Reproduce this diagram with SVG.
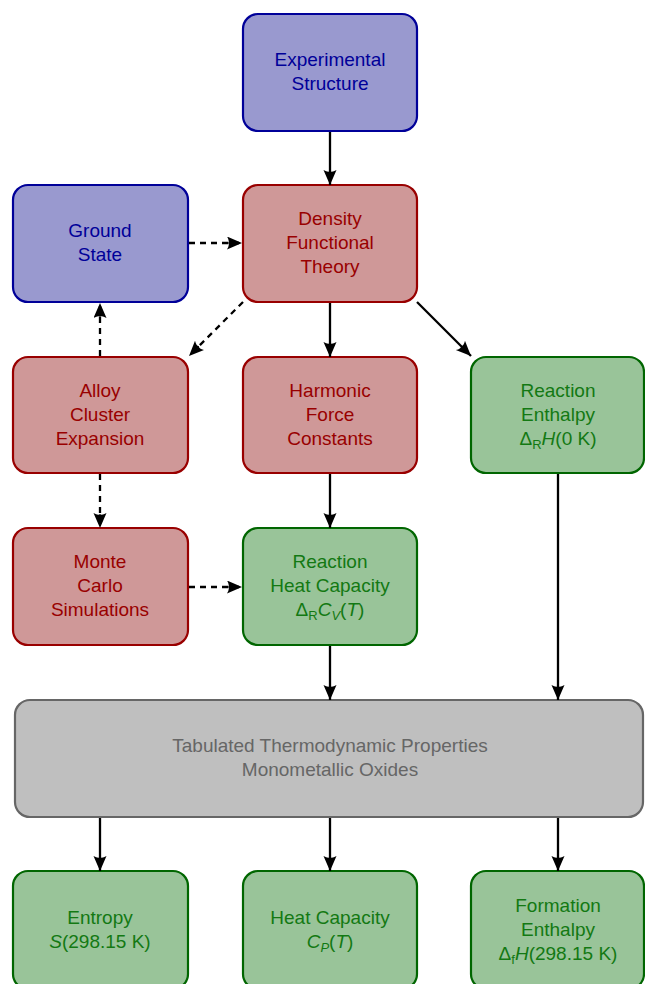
<svg xmlns="http://www.w3.org/2000/svg" width="645" height="984" viewBox="0 0 645 984">
<defs>
<marker id="arr" markerUnits="userSpaceOnUse" markerWidth="18" markerHeight="14" refX="15" refY="6.5" orient="auto">
<path d="M0,0 Q3,5 1,6.5 Q3,8 0,13 L15,6.5 z" fill="#000"/>
</marker>
<style>
.box{stroke-width:2.2}
.blue rect{fill:#9999cf;stroke:#000099}
.blue text{fill:#000099}
.red rect{fill:#cf9898;stroke:#990000}
.red text{fill:#990000}
.green rect{fill:#99c499;stroke:#006600}
.green text{fill:#137913}
.gray rect{fill:#bfbfbf;stroke:#666666}
.gray text{fill:#666666}
text{font-family:"Liberation Sans",Arial,sans-serif;font-size:19px;text-anchor:middle}
.it{font-style:italic}
.c{stroke:#000;stroke-width:2.3;fill:none;marker-end:url(#arr)}
.d{stroke-dasharray:6 5}
</style>
</defs>
<g id="experimental" class="blue">
<rect class="box" x="243" y="14" width="174" height="117" rx="15"/>
<text x="330" y="66">Experimental</text>
<text x="330" y="90">Structure</text>
</g>
<g id="ground" class="blue">
<rect class="box" x="13" y="185" width="175" height="117" rx="15"/>
<text x="100" y="237">Ground</text>
<text x="100" y="261">State</text>
</g>
<g id="dft" class="red">
<rect class="box" x="243" y="185" width="174" height="117" rx="15"/>
<text x="330" y="225">Density</text>
<text x="330" y="249">Functional</text>
<text x="330" y="273">Theory</text>
</g>
<g id="alloy" class="red">
<rect class="box" x="13" y="357" width="175" height="116" rx="15"/>
<text x="100" y="397">Alloy</text>
<text x="100" y="421">Cluster</text>
<text x="100" y="445">Expansion</text>
</g>
<g id="harmonic" class="red">
<rect class="box" x="243" y="357" width="174" height="116" rx="15"/>
<text x="330" y="397">Harmonic</text>
<text x="330" y="421">Force</text>
<text x="330" y="445">Constants</text>
</g>
<g id="enthalpy" class="green">
<rect class="box" x="471" y="357" width="173" height="116" rx="15"/>
<text x="558" y="397">Reaction</text>
<text x="558" y="421">Enthalpy</text>
<text x="558" y="445">Δ<tspan font-size="13" dy="4">R</tspan><tspan class="it" dy="-4">H</tspan>(0 K)</text>
</g>
<g id="montecarlo" class="red">
<rect class="box" x="13" y="528" width="175" height="117" rx="15"/>
<text x="100" y="568">Monte</text>
<text x="100" y="592">Carlo</text>
<text x="100" y="616">Simulations</text>
</g>
<g id="heatcap" class="green">
<rect class="box" x="243" y="528" width="174" height="117" rx="15"/>
<text x="330" y="568">Reaction</text>
<text x="330" y="592">Heat Capacity</text>
<text x="330" y="616">Δ<tspan font-size="13" dy="4">R</tspan><tspan class="it" dy="-4">C</tspan><tspan class="it" font-size="13" dy="4">V</tspan><tspan dy="-4">(</tspan><tspan class="it">T</tspan>)</text>
</g>
<g id="tabulated" class="gray">
<rect class="box" x="15" y="700" width="628" height="117" rx="15"/>
<text x="330" y="752">Tabulated Thermodynamic Properties</text>
<text x="330" y="776">Monometallic Oxides</text>
</g>
<g id="entropy" class="green">
<rect class="box" x="13" y="871" width="175" height="118" rx="15"/>
<text x="100" y="924">Entropy</text>
<text x="100" y="948"><tspan class="it">S</tspan>(298.15 K)</text>
</g>
<g id="heatcapP" class="green">
<rect class="box" x="243" y="871" width="174" height="118" rx="15"/>
<text x="330" y="924">Heat Capacity</text>
<text x="330" y="948"><tspan class="it">C</tspan><tspan class="it" font-size="13" dy="4">P</tspan><tspan dy="-4">(</tspan><tspan class="it">T</tspan>)</text>
</g>
<g id="formation" class="green">
<rect class="box" x="471" y="871" width="173" height="118" rx="15"/>
<text x="558" y="912">Formation</text>
<text x="558" y="936">Enthalpy</text>
<text x="558" y="960">Δ<tspan font-size="13" dy="4">f</tspan><tspan class="it" dy="-4">H</tspan>(298.15 K)</text>
</g>
<g id="connectors">
<line class="c" x1="330" y1="132" x2="330" y2="185"/>
<line class="c d" x1="189" y1="243" x2="242" y2="243"/>
<line class="c d" x1="243" y1="302" x2="189" y2="356"/>
<line class="c d" x1="100" y1="356" x2="100" y2="303"/>
<line class="c" x1="330" y1="303" x2="330" y2="357"/>
<line class="c" x1="417" y1="302" x2="471" y2="356"/>
<line class="c d" x1="100" y1="474" x2="100" y2="528"/>
<line class="c" x1="330" y1="474" x2="330" y2="528"/>
<line class="c d" x1="189" y1="587" x2="242" y2="587"/>
<line class="c" x1="330" y1="646" x2="330" y2="700"/>
<line class="c" x1="558" y1="474" x2="558" y2="700"/>
<line class="c" x1="100" y1="818" x2="100" y2="871"/>
<line class="c" x1="330" y1="818" x2="330" y2="871"/>
<line class="c" x1="558" y1="818" x2="558" y2="871"/>
</g>
</svg>
